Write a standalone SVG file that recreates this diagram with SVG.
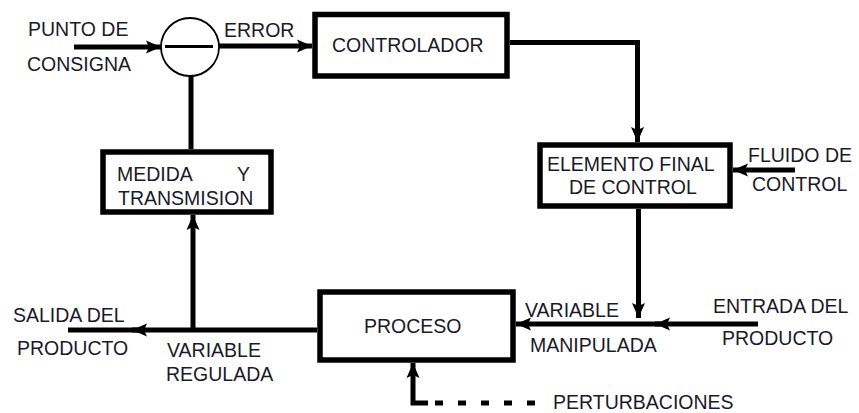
<svg xmlns="http://www.w3.org/2000/svg" width="859" height="413" viewBox="0 0 859 413">
<defs>
<style>
.box{fill:#fff;stroke:#000;stroke-width:5.5}
.ln{fill:none;stroke:#000;stroke-width:5}
.dash{fill:none;stroke:#000;stroke-width:5;stroke-dasharray:8 15}
.t{font-family:"Liberation Sans",Arial,sans-serif;font-size:19.5px;fill:#1a1a2a}
</style>
<marker id="ah" markerUnits="userSpaceOnUse" markerWidth="16" markerHeight="14" refX="15" refY="7" orient="auto">
<path d="M0,0.5 L15,7 L0,13.5 L3,7 Z" fill="#000"/>
</marker>
</defs>
<rect width="859" height="413" fill="#fff"/>
<g id="connectors">
<line class="ln" x1="74" y1="47" x2="161" y2="47" marker-end="url(#ah)"/>
<line class="ln" x1="219" y1="46" x2="312" y2="46" marker-end="url(#ah)"/>
<polyline class="ln" points="510,42.5 637.5,42.5 637.5,142" marker-end="url(#ah)"/>
<line class="ln" x1="795" y1="170" x2="733" y2="170" marker-end="url(#ah)"/>
<line class="ln" x1="638.5" y1="209" x2="638.5" y2="318" marker-end="url(#ah)"/>
<line class="ln" x1="758" y1="324" x2="655" y2="324" marker-end="url(#ah)"/>
<line class="ln" x1="660" y1="324" x2="516" y2="324" marker-end="url(#ah)"/>
<line class="ln" x1="317" y1="330" x2="132" y2="330" marker-end="url(#ah)"/>
<line class="ln" x1="140" y1="330" x2="68" y2="330"/>
<line class="ln" x1="193" y1="330" x2="193" y2="215" marker-end="url(#ah)"/>
<line class="ln" x1="191" y1="149" x2="191" y2="76"/>
<polyline class="ln" points="428,403 413,403 413,363" marker-end="url(#ah)"/>
<line class="dash" x1="435" y1="403" x2="545" y2="403"/>
</g>
<g id="comparador">
<circle cx="190" cy="47" r="29" fill="#fff" stroke="#000" stroke-width="1.8"/>
<line x1="165" y1="46.5" x2="213" y2="46.5" stroke="#000" stroke-width="3"/>
</g>
<g id="controlador">
<rect class="box" x="315" y="14.5" width="192" height="61.5"/>
<text class="t" x="332" y="52">CONTROLADOR</text>
</g>
<g id="elemento">
<rect class="box" x="540" y="145" width="190" height="61"/>
<text class="t" x="547" y="171">ELEMENTO FINAL</text>
<text class="t" x="569" y="194">DE CONTROL</text>
</g>
<g id="medida">
<rect class="box" x="103" y="152" width="168" height="60"/>
<text class="t" x="117" y="181">MEDIDA</text>
<text class="t" x="237" y="181">Y</text>
<text class="t" x="118" y="205">TRANSMISION</text>
</g>
<g id="proceso">
<rect class="box" x="320" y="292" width="193" height="68"/>
<text class="t" x="364" y="333">PROCESO</text>
</g>
<g id="labels">
<text class="t" x="28" y="36">PUNTO DE</text>
<text class="t" x="27" y="71">CONSIGNA</text>
<text class="t" x="224" y="37">ERROR</text>
<text class="t" x="748" y="162">FLUIDO DE</text>
<text class="t" x="752" y="191">CONTROL</text>
<text class="t" x="13" y="322">SALIDA DEL</text>
<text class="t" x="17" y="355">PRODUCTO</text>
<text class="t" x="167" y="357">VARIABLE</text>
<text class="t" x="166" y="381">REGULADA</text>
<text class="t" x="525" y="317">VARIABLE</text>
<text class="t" x="530" y="352">MANIPULADA</text>
<text class="t" x="713" y="313">ENTRADA DEL</text>
<text class="t" x="722" y="345">PRODUCTO</text>
<text class="t" x="553" y="409">PERTURBACIONES</text>
</g>
</svg>
